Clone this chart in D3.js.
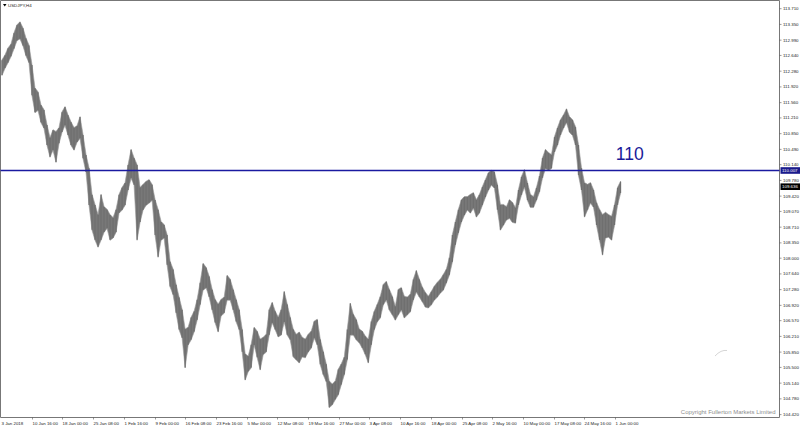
<!DOCTYPE html>
<html><head><meta charset="utf-8">
<script src="https://cdn.jsdelivr.net/npm/d3@7"></script>
<style>html,body{margin:0;padding:0;background:#fff;}svg{display:block;}</style>
</head><body>
<div id="chart"></div>
<script>
const highs = [
112.53,112.64,112.80,112.89,113.15,113.33,113.40,113.26,113.03,112.87,
112.42,111.89,111.80,111.50,111.39,111.05,110.75,110.93,110.89,110.98,
111.34,111.46,111.27,111.11,110.98,111.02,111.23,110.82,110.36,110.06,
109.45,109.22,108.99,109.45,109.17,109.11,108.99,108.92,109.11,109.45,
109.61,109.72,110.13,110.48,110.29,110.13,109.61,109.68,109.75,109.79,
109.68,109.33,109.11,108.83,108.76,108.53,107.92,107.74,107.39,107.10,
106.82,106.37,106.41,106.64,106.78,107.05,107.44,107.87,107.78,107.58,
107.28,107.05,106.94,107.05,107.10,107.60,107.51,107.28,107.05,106.82,
106.37,105.80,105.75,106.02,106.41,106.32,106.14,106.18,106.25,106.82,
106.98,106.78,106.64,106.82,107.23,106.94,106.64,106.37,106.25,106.30,
106.18,106.14,106.25,106.32,106.55,106.59,106.14,105.86,105.57,105.18,
105.11,105.18,105.45,105.57,105.73,106.37,106.96,106.71,106.59,106.37,
106.32,106.21,106.14,106.55,106.78,106.94,107.12,107.39,107.46,107.28,
107.12,106.89,107.28,107.32,107.12,107.10,107.17,107.51,107.71,107.51,
107.33,107.21,107.12,107.23,107.35,107.44,107.51,107.62,107.74,108.01,
108.53,108.83,109.11,109.33,109.40,109.40,109.45,109.49,109.33,109.45,
109.63,109.79,109.95,110.00,109.97,109.68,109.22,109.22,109.17,109.33,
109.27,109.15,109.56,109.86,110.02,109.72,109.45,109.40,109.61,109.88,
110.29,110.48,110.41,110.36,110.77,110.98,111.16,111.27,111.41,111.23,
111.16,111.00,110.59,110.06,109.72,109.68,109.72,109.56,109.27,109.11,
108.99,109.04,108.99,108.95,109.22,109.61,109.75
];
const lows = [
112.19,112.35,112.48,112.62,112.80,112.99,113.03,112.87,112.64,112.48,
111.73,111.34,111.39,111.11,110.98,110.59,110.32,110.48,110.20,110.63,
110.89,111.05,110.82,110.59,110.48,110.66,110.75,110.29,109.97,109.22,
108.65,108.42,108.26,108.42,108.60,108.69,108.42,108.47,108.60,109.04,
109.11,109.22,109.56,109.84,109.68,108.42,108.83,109.11,109.22,109.27,
109.33,108.53,108.03,108.42,108.47,107.85,107.35,107.17,106.75,106.37,
106.18,105.50,106.02,106.14,106.32,106.59,106.94,107.28,107.33,107.12,
106.82,106.53,106.32,106.69,106.75,107.05,107.05,106.82,106.55,106.37,
105.86,105.22,105.41,105.50,106.02,105.73,105.45,105.80,105.86,106.25,
106.53,106.37,106.21,106.25,106.55,106.25,106.14,105.75,105.68,105.61,
105.75,105.73,105.86,105.95,106.18,106.02,105.57,105.34,105.18,104.59,
104.65,104.77,104.88,105.11,105.34,105.68,106.25,106.25,106.14,106.07,
105.95,105.80,105.61,106.02,106.37,106.55,106.64,106.94,107.05,106.82,
106.71,106.59,106.71,106.82,106.64,106.71,106.78,107.05,107.23,107.12,
107.01,106.89,106.87,106.94,107.05,107.12,107.21,107.28,107.44,107.62,
107.92,108.31,108.58,108.83,108.99,109.11,109.04,109.15,108.95,109.04,
109.22,109.40,109.56,109.68,109.61,109.11,108.65,108.76,108.88,108.92,
108.83,108.81,109.22,109.45,109.63,109.33,109.17,109.17,109.33,109.52,
109.84,110.06,110.02,110.06,110.43,110.59,110.82,110.98,111.11,110.89,
110.82,110.59,109.90,109.56,108.95,109.11,109.27,109.17,108.76,108.42,
108.08,108.47,108.49,108.42,108.76,109.22,109.49
];
const lastClose = 109.636;
const levelPrice = 110.007;
const levelText = "110";
const symbolTitle = "USDJPY,H4";
const copyrightText = "Copyright Fullerton Markets Limited";

const priceTicks = [113.710,113.350,112.990,112.640,112.280,111.920,111.560,111.210,110.850,110.490,
  110.140,109.780,109.420,109.070,108.710,108.350,108.000,107.640,107.280,106.920,106.570,106.210,
  105.850,105.500,105.140,104.780,104.420];
const timeLabels = ["3 Jan 2018","10 Jan 16:00","18 Jan 00:00","25 Jan 08:00","1 Feb 16:00","9 Feb 00:00",
  "16 Feb 08:00","23 Feb 16:00","5 Mar 00:00","12 Mar 08:00","19 Mar 16:00","27 Mar 00:00","3 Apr 08:00",
  "10 Apr 16:00","18 Apr 00:00","25 Apr 08:00","2 May 16:00","10 May 00:00","17 May 08:00","24 May 16:00","1 Jun 00:00"];
const barsPerLabel = 32;   // H4 bars between time labels
const barsPerSample = 3.13; // H4 bars represented by each sample

const W = 800, H = 429;
const plotRight = 779.5, plotBottom = 417.5;
const svg = d3.select("#chart").append("svg").attr("width", W).attr("height", H)
  .style("font-family", "'Liberation Sans', Arial, sans-serif");
svg.append("rect").attr("width", W).attr("height", H).attr("fill", "#fff");

const y = d3.scaleLinear().domain([104.42, 113.71]).range([414.6, 8.7]);
const x = d3.scaleLinear().domain([0, barsPerLabel * (timeLabels.length - 1)]).range([1, 615]);

// frame
svg.append("path").attr("d", `M0.5,${plotBottom}V0.5H${plotRight}V${plotBottom}H0.5`)
  .attr("fill", "none").attr("stroke", "#777").attr("stroke-width", 1);

// price band (high/low of bars)
const bars = highs.map((h, i) => ({ i, h, l: lows[i] }));
const area = d3.area()
  .x(d => x(1 + d.i * barsPerSample))
  .y0(d => y(d.l) + 0.5)
  .y1(d => y(d.h) - 0.5);
svg.append("path").datum(bars).attr("d", area).attr("fill", "#787878")
  .attr("stroke", "#9a9a9a").attr("stroke-width", 0.6);
svg.append("g").selectAll("line").data(bars).join("line")
  .attr("x1", d => x(1 + d.i * barsPerSample)).attr("x2", d => x(1 + d.i * barsPerSample))
  .attr("y1", d => y(d.h)).attr("y2", d => y(d.l))
  .attr("stroke", "#6f6f6f").attr("stroke-width", 1.2);

// horizontal level
svg.append("line").attr("x1", 0.5).attr("x2", plotRight).attr("y1", y(levelPrice)).attr("y2", y(levelPrice))
  .attr("stroke", "#1a1aa0").attr("stroke-width", 1.3);
svg.append("text").attr("x", 615.8).attr("y", 159.5).attr("font-size", 17.6).attr("fill", "#1a1a99").text(levelText);

// price axis
const ya = svg.append("g");
priceTicks.forEach(v => {
  ya.append("line").attr("x1", plotRight).attr("x2", plotRight + 2).attr("y1", y(v)).attr("y2", y(v)).attr("stroke", "#555").attr("stroke-width", 0.6);
  ya.append("text").attr("x", 783).attr("y", y(v)).attr("dy", "0.35em").attr("font-size", 4.4).attr("fill", "#222").text(v.toFixed(3));
});
function priceBox(v, fill) {
  ya.append("rect").attr("x", 780.5).attr("y", y(v) - 3.3).attr("width", 19.5).attr("height", 6.6).attr("fill", fill);
  ya.append("text").attr("x", 782).attr("y", y(v)).attr("dy", "0.35em").attr("font-size", 4.4).attr("fill", "#fff").text(v.toFixed(3));
}
priceBox(levelPrice, "#1a1a8c");
priceBox(lastClose, "#000");

// time axis
timeLabels.forEach((t, k) => {
  const xx = Math.round(x(k * barsPerLabel)) + 0.5;
  if (k > 0) svg.append("line").attr("x1", xx).attr("x2", xx).attr("y1", plotBottom).attr("y2", plotBottom + 2).attr("stroke", "#555").attr("stroke-width", 0.6);
  svg.append("text").attr("x", xx).attr("y", 424.5).attr("font-size", 4.4).attr("fill", "#222").text(t);
});

// title
svg.append("path").attr("d", "M3,4H6.5L4.75,6.5Z").attr("fill", "#000");
svg.append("text").attr("x", 8).attr("y", 7).attr("font-size", 4.4).attr("fill", "#222").text(symbolTitle);

// copyright
svg.append("text").attr("x", 775.5).attr("y", 414).attr("text-anchor", "end").attr("font-size", 6).attr("fill", "#8e8e8e").text(copyrightText);
// faint watermark fragment
svg.append("path").attr("d", "M715,356Q721,349.5,727,350.5").attr("fill", "none").attr("stroke", "#d6d6d6").attr("stroke-width", 1);
</script>
</body></html>
